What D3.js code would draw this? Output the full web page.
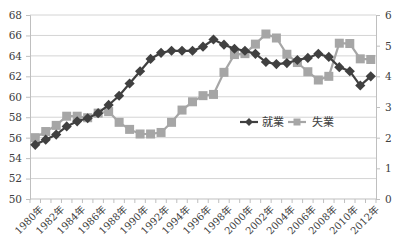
<!DOCTYPE html>
<html>
<head>
<meta charset="utf-8">
<script src="https://cdn.jsdelivr.net/npm/d3@7"></script>
<style>
  body { margin: 0; background: #fff; }
</style>
</head>
<body>
<div id="chart"></div>
<script>
// 年
const years = d3.range(1980, 2013).map(y => y + "年");
// 就業率 (左軸)
const shugyo = [55.3, 55.8, 56.3, 57.1, 57.6, 57.9, 58.4, 59.2, 60.1, 61.3, 62.5, 63.7, 64.3, 64.5, 64.5, 64.5, 64.9, 65.6,
  65.1, 64.7, 64.5, 64.2, 63.4, 63.2, 63.3, 63.6, 63.8, 64.2, 63.9, 62.9, 62.5, 61.1, 62.0];
// 失業率 (右軸)
const shitsugyo = [2.0, 2.2, 2.4, 2.7, 2.7, 2.65, 2.8, 2.85, 2.5, 2.27, 2.12, 2.12, 2.17, 2.5, 2.9, 3.17, 3.37, 3.41,
  4.13, 4.71, 4.74, 5.05, 5.38, 5.25, 4.72, 4.45, 4.15, 3.88, 4.0, 5.08, 5.07, 4.57, 4.55];
const leftTicks = d3.range(50, 69, 2);
const rightTicks = d3.range(0, 7, 1);
const labelYears = years.filter((d, i) => i % 2 === 0);

const width = 400, height = 242;
const margin = { top: 15, right: 24, bottom: 43, left: 30 };
const font = "DejaVu Serif, Noto Sans CJK JP, serif";

const svg = d3.select("#chart").append("svg")
  .attr("width", width)
  .attr("height", height);

const x = d3.scaleBand().domain(years).range([margin.left, width - margin.right]);
const yL = d3.scaleLinear().domain([50, 68]).range([height - margin.bottom, margin.top]);
const yR = d3.scaleLinear().domain([0, 6]).range([height - margin.bottom, margin.top]);

// グリッド線
svg.append("g").selectAll("line")
  .data(leftTicks.filter(d => d > 50))
  .enter().append("line")
  .attr("x1", margin.left).attr("x2", width - margin.right)
  .attr("y1", d => yL(d)).attr("y2", d => yL(d))
  .attr("stroke", "#d4d4d4").attr("stroke-width", 1);

// 左軸
const gL = svg.append("g")
  .attr("transform", `translate(${margin.left},0)`)
  .call(d3.axisLeft(yL).tickValues(leftTicks).tickFormat(d3.format("d")).tickSize(4).tickPadding(4));
gL.attr("font-family", font);
gL.selectAll("path, line").attr("stroke", "#bfbfbf");
gL.selectAll("text").attr("font-size", 10.5).attr("fill", "#404040");

// 右軸
const gR = svg.append("g")
  .attr("transform", `translate(${width - margin.right},0)`)
  .call(d3.axisRight(yR).tickValues(rightTicks).tickFormat(d3.format("d")).tickSize(4).tickPadding(5));
gR.attr("font-family", font);
gR.selectAll("path, line").attr("stroke", "#bfbfbf");
gR.selectAll("text").attr("font-size", 10.5).attr("fill", "#404040");

// X軸
const xTickPos = years.map(d => x(d)).concat([width - margin.right]);
const gX = svg.append("g").attr("font-family", font);
gX.append("line")
  .attr("x1", margin.left).attr("x2", width - margin.right)
  .attr("y1", yL(50)).attr("y2", yL(50))
  .attr("stroke", "#bfbfbf");
gX.selectAll("line.tick")
  .data(xTickPos)
  .enter().append("line")
  .attr("class", "tick")
  .attr("x1", d => d).attr("x2", d => d)
  .attr("y1", yL(50)).attr("y2", yL(50) + 4)
  .attr("stroke", "#bfbfbf");
gX.selectAll("text")
  .data(labelYears)
  .enter().append("text")
  .attr("transform", d => `translate(${x(d) + x.bandwidth() / 2 + 4},${yL(50) + 6}) rotate(-45)`)
  .attr("text-anchor", "end")
  .attr("dy", "0.7em")
  .attr("font-size", 10)
  .attr("fill", "#404040")
  .text(d => d);

// 失業 (正方形)
const lineR = d3.line().x((d, i) => x(years[i]) + x.bandwidth() / 2).y(d => yR(d));
svg.append("path").datum(shitsugyo)
  .attr("d", lineR)
  .attr("fill", "none").attr("stroke", "#a6a6a6").attr("stroke-width", 2.2);
svg.append("g").selectAll("rect")
  .data(shitsugyo)
  .enter().append("rect")
  .attr("x", (d, i) => x(years[i]) + x.bandwidth() / 2 - 4.5)
  .attr("y", d => yR(d) - 4.5)
  .attr("width", 9).attr("height", 9)
  .attr("fill", "#a6a6a6");

// 就業 (ひし形)
const lineL = d3.line().x((d, i) => x(years[i]) + x.bandwidth() / 2).y(d => yL(d));
svg.append("path").datum(shugyo)
  .attr("d", lineL)
  .attr("fill", "none").attr("stroke", "#404040").attr("stroke-width", 2.2);
const diamond = d3.symbol().type(d3.symbolDiamond2).size(66);
svg.append("g").selectAll("path")
  .data(shugyo)
  .enter().append("path")
  .attr("d", diamond)
  .attr("transform", (d, i) => `translate(${x(years[i]) + x.bandwidth() / 2},${yL(d)})`)
  .attr("fill", "#404040");

// 凡例
const legend = svg.append("g").attr("transform", "translate(240,122)").attr("font-family", font);
legend.append("line").attr("x1", 0).attr("x2", 18).attr("stroke", "#404040").attr("stroke-width", 2.2);
legend.append("path").attr("d", d3.symbol().type(d3.symbolDiamond2).size(40)).attr("transform", "translate(9,0)").attr("fill", "#404040");
legend.append("text").attr("x", 22).attr("dy", "0.35em").attr("font-size", 11).attr("fill", "#404040").text("就業");
legend.append("line").attr("x1", 48).attr("x2", 66).attr("stroke", "#a6a6a6").attr("stroke-width", 2.2);
legend.append("rect").attr("x", 53.5).attr("y", -3.5).attr("width", 7).attr("height", 7).attr("fill", "#a6a6a6");
legend.append("text").attr("x", 72).attr("dy", "0.35em").attr("font-size", 11).attr("fill", "#404040").text("失業");
</script>
</body>
</html>
